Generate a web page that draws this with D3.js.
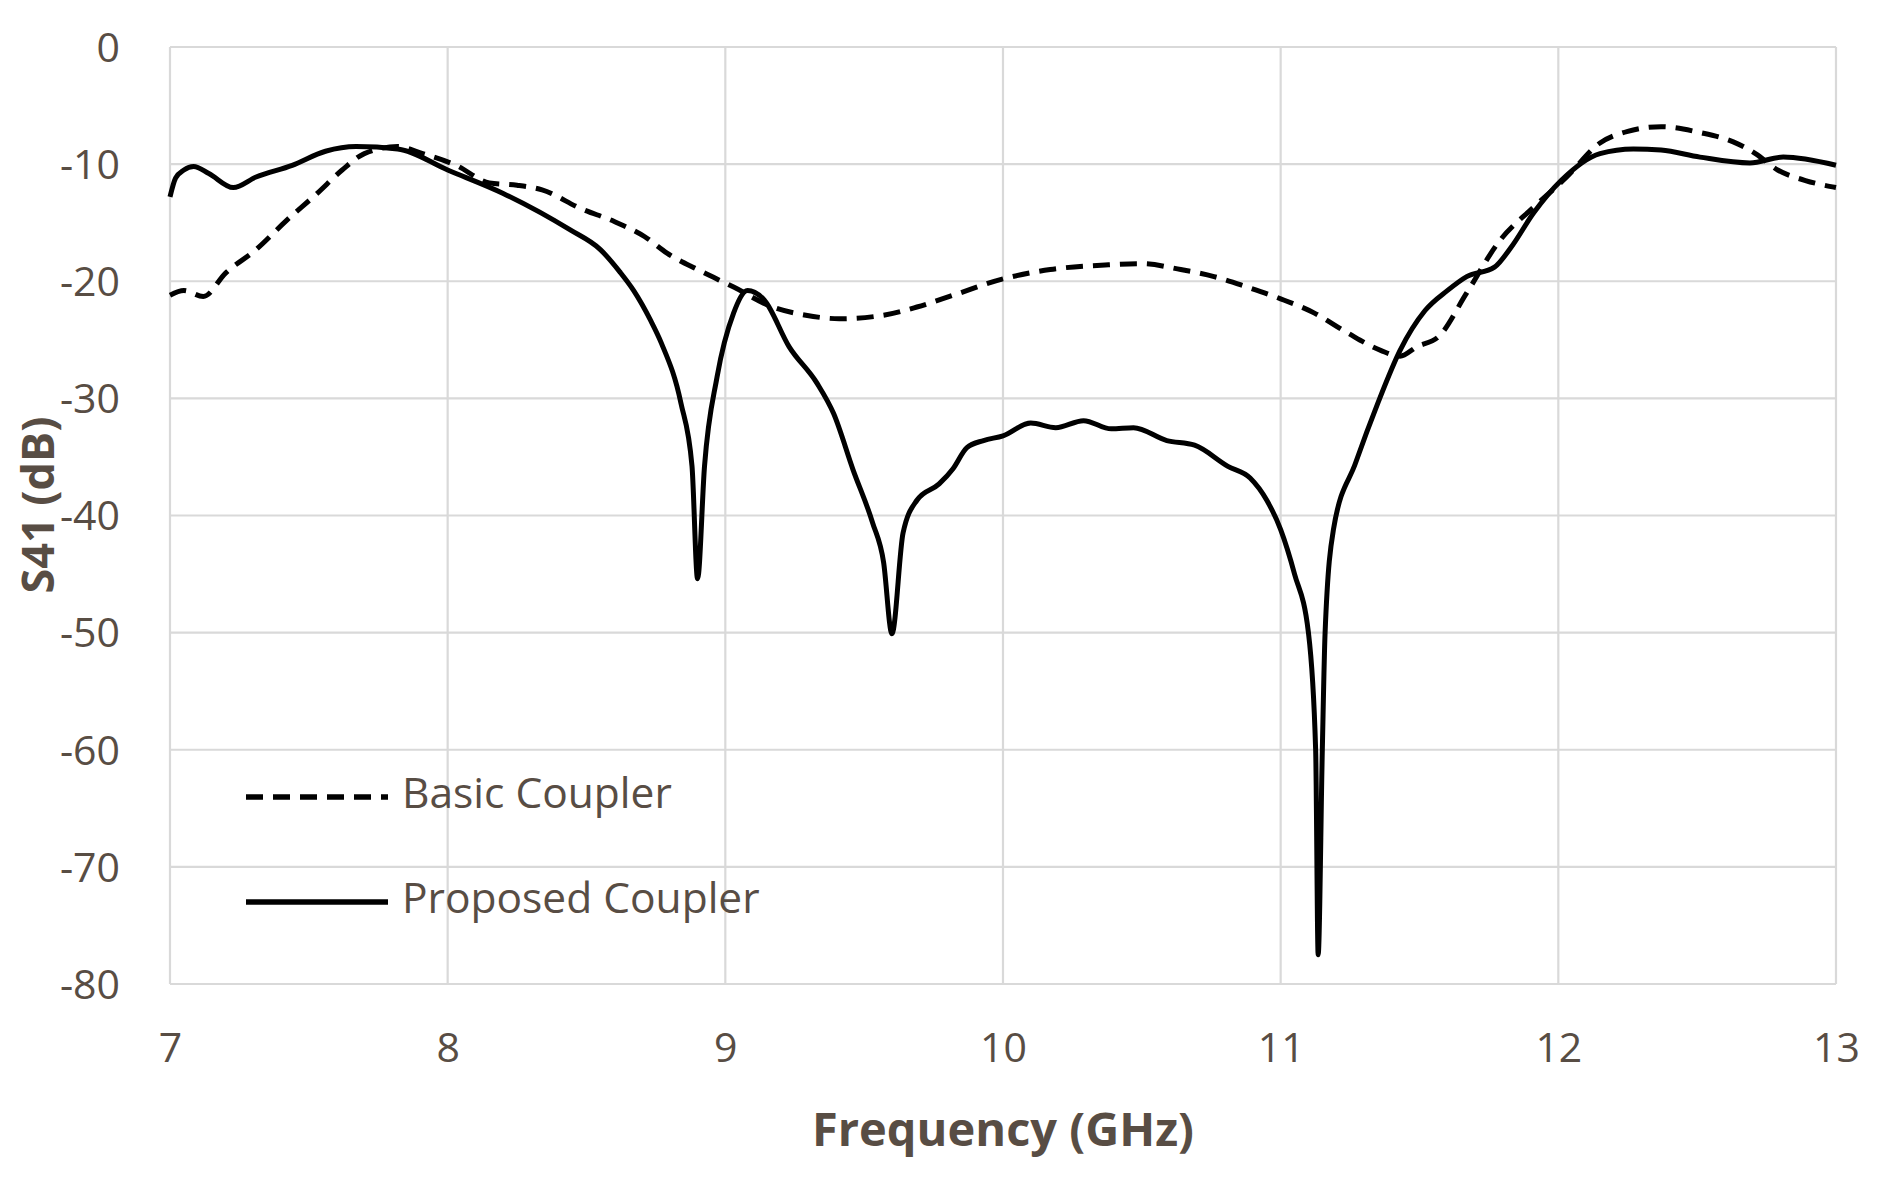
<!DOCTYPE html>
<html>
<head>
<meta charset="utf-8">
<script src="https://cdn.jsdelivr.net/npm/d3@7"></script>
<style>
  html, body { margin: 0; padding: 0; background: #fff; }
  svg { display: block; }
</style>
</head>
<body>
<div id="chart"></div>
<script>
// S41 vs frequency
const xTicks = [7, 8, 9, 10, 11, 12, 13];
const yTicks = [0, -10, -20, -30, -40, -50, -60, -70, -80];

const basicFreq = [7.0, 7.05, 7.12, 7.2, 7.31, 7.42, 7.53, 7.62, 7.7, 7.82, 7.91, 8.03, 8.15, 8.25, 8.34,
  8.48, 8.6, 8.71, 8.79, 8.9, 9.03, 9.17, 9.29, 9.41, 9.57, 9.69, 9.82, 10.0, 10.17, 10.38, 10.5,
  10.64, 10.76, 10.88, 11.0, 11.12, 11.24, 11.36, 11.43, 11.49, 11.57, 11.67, 11.79, 11.91, 12.03,
  12.15, 12.25, 12.37, 12.51, 12.63, 12.71, 12.79, 12.89, 13.0];
const basicS41 = [-21.2, -20.8, -21.3, -19.3, -17.3, -14.8, -12.5, -10.5, -9.1, -8.5, -9.1, -10.1, -11.6, -11.8, -12.2,
  -13.8, -14.9, -16.2, -17.6, -19.0, -20.5, -22.2, -22.9, -23.2, -22.9, -22.2, -21.2, -19.8, -19.0, -18.6, -18.5,
  -19.0, -19.6, -20.5, -21.5, -22.7, -24.4, -25.9, -26.4, -25.6, -24.7, -21.0, -16.5, -13.7, -11.1,
  -8.2, -7.2, -6.8, -7.3, -8.1, -9.1, -10.5, -11.4, -12.0];

const proposedFreq = [7.0, 7.02, 7.05, 7.085, 7.14, 7.228, 7.31, 7.44, 7.56, 7.67, 7.82, 8.0, 8.2, 8.44, 8.55,
  8.62, 8.67, 8.73, 8.77, 8.84, 8.88, 8.9, 8.925, 8.97, 9.03, 9.08, 9.14, 9.23, 9.33, 9.39, 9.46,
  9.53, 9.57, 9.6, 9.64, 9.69, 9.77, 9.82, 9.87, 9.93, 10.0, 10.1, 10.19, 10.29, 10.39, 10.47,
  10.59, 10.69, 10.81, 10.89, 10.95, 11.0, 11.05, 11.1, 11.126, 11.135, 11.15, 11.16, 11.19, 11.27,
  11.35, 11.43, 11.52, 11.6, 11.67, 11.77, 11.83, 11.91, 12.01, 12.15, 12.27, 12.37, 12.51, 12.69,
  12.81, 13.0];
const proposedS41 = [-12.8, -11.2, -10.5, -10.2, -10.8, -12.0, -11.1, -10.1, -8.9, -8.5, -8.7, -10.5, -12.5, -15.6, -17.3,
  -19.2, -20.8, -23.3, -25.3, -30.4, -35.8, -45.4, -35.8, -28.2, -22.7, -20.8, -21.6, -25.6, -28.7, -31.3, -36.1,
  -40.6, -44.0, -50.1, -41.5, -38.7, -37.3, -36.0, -34.2, -33.6, -33.2, -32.1, -32.5, -31.9, -32.6, -32.5,
  -33.6, -34.0, -35.8, -36.8, -38.7, -41.2, -45.0, -50.0, -60.0, -77.5, -60.0, -50.0, -41.2, -35.5,
  -30.4, -25.9, -22.5, -20.8, -19.6, -18.8, -17.1, -14.2, -11.4, -9.1, -8.7, -8.8, -9.4, -9.9,
  -9.4, -10.1];

const seriesNames = ["Basic Coupler", "Proposed Coupler"];

const width = 1880, height = 1190;
const margin = { top: 47, right: 44, bottom: 206, left: 170 };
const textColor = "#584d44";
const gridColor = "#d9d9d9";
const font = "'Open Sans', Lato, sans-serif";

const svg = d3.select("#chart").append("svg")
  .attr("width", width)
  .attr("height", height);

const x = d3.scaleLinear().domain([7, 13]).range([margin.left, width - margin.right]);
const y = d3.scaleLinear().domain([-80, 0]).range([height - margin.bottom, margin.top]);

// grid
const grid = svg.append("g").attr("class", "grid");
grid.selectAll("line.h").data(yTicks).enter().append("line")
  .attr("x1", x(7)).attr("x2", x(13))
  .attr("y1", d => y(d)).attr("y2", d => y(d))
  .attr("stroke", gridColor).attr("stroke-width", 2.2);
grid.selectAll("line.v").data(xTicks).enter().append("line")
  .attr("y1", y(0)).attr("y2", y(-80))
  .attr("x1", d => x(d)).attr("x2", d => x(d))
  .attr("stroke", gridColor).attr("stroke-width", 2.2);

// axes (labels only, no domain lines); plain hyphen for negatives like the reference
const fmt = d => String(d);
const xAxis = svg.append("g")
  .attr("transform", `translate(0,${y(-80)})`)
  .call(d3.axisBottom(x).tickValues(xTicks).tickSize(0).tickFormat(fmt));
const yAxis = svg.append("g")
  .attr("transform", `translate(${x(7)},0)`)
  .call(d3.axisLeft(y).tickValues(yTicks).tickSize(0).tickPadding(50).tickFormat(fmt));

[xAxis, yAxis].forEach(a => {
  a.select(".domain").remove();
  a.selectAll("text")
    .style("font-family", font)
    .style("font-size", "41px")
    .style("fill", textColor);
});
xAxis.selectAll("text").attr("dy", "0.35em").attr("y", 64);
yAxis.selectAll("text").attr("dy", "0.35em");

// axis titles
svg.append("text")
  .attr("x", (x(7) + x(13)) / 2)
  .attr("y", 1133)
  .attr("text-anchor", "middle")
  .attr("dominant-baseline", "middle")
  .style("font-family", font)
  .style("font-weight", "bold")
  .style("font-size", "47px")
  .style("fill", textColor)
  .text("Frequency (GHz)");

svg.append("text")
  .attr("transform", "translate(42,505) rotate(-90)")
  .attr("text-anchor", "middle")
  .attr("dominant-baseline", "middle")
  .style("font-family", font)
  .style("font-weight", "bold")
  .style("font-size", "45px")
  .style("fill", textColor)
  .text("S41 (dB)");

// curves
const line = d3.line()
  .x(d => x(d[0]))
  .y(d => y(d[1]))
  .curve(d3.curveMonotoneX);

const basicData = basicFreq.map((f, i) => [f, basicS41[i]]);
const proposedData = proposedFreq.map((f, i) => [f, proposedS41[i]]);

svg.append("path")
  .datum(basicData)
  .attr("fill", "none")
  .attr("stroke", "#000")
  .attr("stroke-width", 5)
  .attr("stroke-dasharray", "17,10")
  .attr("d", line);

svg.append("path")
  .datum(proposedData)
  .attr("fill", "none")
  .attr("stroke", "#000")
  .attr("stroke-width", 5)
  .attr("stroke-linejoin", "round")
  .attr("d", line);

// legend
const legend = svg.append("g").attr("class", "legend");
const legendRows = [
  { name: seriesNames[0], dash: "17,10", y: 797 },
  { name: seriesNames[1], dash: null, y: 902 }
];
legendRows.forEach(r => {
  legend.append("line")
    .attr("x1", 246).attr("x2", 388)
    .attr("y1", r.y).attr("y2", r.y)
    .attr("stroke", "#000")
    .attr("stroke-width", 5.5)
    .attr("stroke-dasharray", r.dash);
  legend.append("text")
    .attr("x", 402)
    .attr("y", r.y)
    .attr("dominant-baseline", "middle")
    .style("font-family", font)
    .style("font-size", "42.5px")
    .style("fill", textColor)
    .text(r.name);
});
</script>
</body>
</html>
